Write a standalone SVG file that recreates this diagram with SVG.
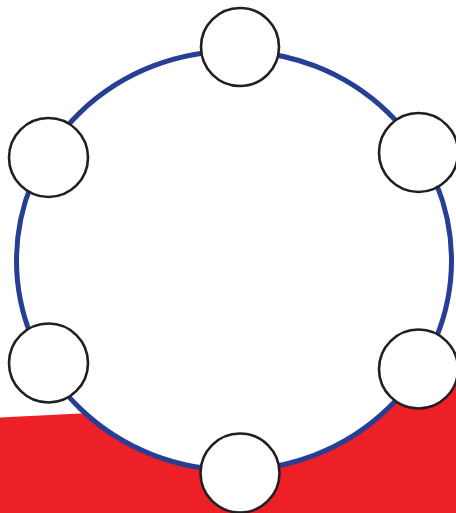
<svg xmlns="http://www.w3.org/2000/svg" width="456" height="513" viewBox="0 0 456 513">
<style>
.node{fill:#ffffff;stroke:#231f20;stroke-width:2.6}
.ring{fill:#ffffff;stroke:#263f94;stroke-width:5}
</style>
<rect x="0" y="0" width="456" height="513" fill="#ffffff"/>
<polygon points="0,417.5 90,413 420,388 456,385 456,513 0,513" fill="#ed1f27"/>
<g id="connectors">
<ellipse class="ring" cx="234" cy="260.5" rx="217.5" ry="209.5"/>
</g>
<g id="node-top"><circle class="node" cx="240" cy="47" r="39"/></g>
<g id="node-upper-left"><circle class="node" cx="48.5" cy="157.5" r="39.5"/></g>
<g id="node-upper-right"><circle class="node" cx="418.5" cy="152.5" r="39.5"/></g>
<g id="node-lower-left"><circle class="node" cx="48.5" cy="363" r="39.5"/></g>
<g id="node-lower-right"><circle class="node" cx="418.5" cy="369" r="39.5"/></g>
<g id="node-bottom"><circle class="node" cx="240" cy="473" r="39.5"/></g>
</svg>
